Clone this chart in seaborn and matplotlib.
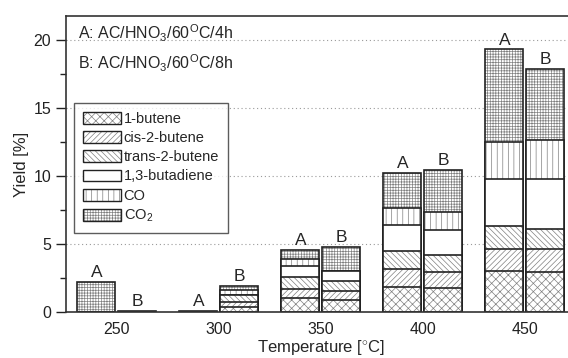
import matplotlib
matplotlib.use('Agg')
import matplotlib.pyplot as plt
import matplotlib.colors as mcolors
from matplotlib.patches import Patch
from matplotlib.ticker import MultipleLocator
import pandas as pd
import seaborn as sns

# values (yield in %)
temps = ['250', '300', '350', '400', '450']
samples = ['A', 'B']
compounds = ['1-butene', 'cis-2-butene', 'trans-2-butene', '1,3-butadiene', 'CO', 'CO$_2$']

butene1_A = [0.0, 0.0, 1.00, 1.86, 3.04]
butene1_B = [0.0, 0.35, 0.85, 1.79, 2.94]
cis_A = [0.0, 0.0, 0.69, 1.28, 1.57]
cis_B = [0.0, 0.42, 0.69, 1.17, 1.66]
trans_A = [0.0, 0.0, 0.86, 1.37, 1.71]
trans_B = [0.0, 0.45, 0.76, 1.25, 1.53]
butadiene_A = [0.0, 0.0, 0.83, 1.86, 3.46]
butadiene_B = [0.0, 0.05, 0.74, 1.84, 3.65]
co_A = [0.0, 0.0, 0.49, 1.25, 2.74]
co_B = [0.0, 0.35, 0.0, 1.29, 2.87]
co2_A = [2.20, 0.10, 0.69, 2.62, 6.78]
co2_B = [0.10, 0.28, 1.76, 3.08, 5.25]

hatches = ['xxxx', '//////', '\\\\\\\\\\\\', '', '|||', '++++++']

sns.set_style('ticks')
plt.rcParams['font.family'] = ['Liberation Sans', 'DejaVu Sans']
plt.rcParams['mathtext.fontset'] = 'custom'
plt.rcParams['mathtext.rm'] = 'Liberation Sans'
plt.rcParams['mathtext.it'] = 'Liberation Sans:italic'
plt.rcParams['mathtext.bf'] = 'Liberation Sans:bold'
plt.rcParams['hatch.linewidth'] = 0.5

edge = '#222222'
hatch_col = '#808080'


def set_hatch(p, h):
    p.set_hatch(h)
    if hasattr(p, 'set_hatchcolor'):
        p.set_hatchcolor(hatch_col)
    else:
        p._hatch_color = mcolors.to_rgba(hatch_col)


# long table of stacked layers (cumulative sums)
layers_A = [butene1_A, cis_A, trans_A, butadiene_A, co_A, co2_A]
layers_B = [butene1_B, cis_B, trans_B, butadiene_B, co_B, co2_B]
rows = []
for i, comp in enumerate(compounds):
    for s, layers in zip(samples, [layers_A, layers_B]):
        for j, t in enumerate(temps):
            cum = sum(layers[k][j] for k in range(i + 1))
            rows.append({'temp': t, 'sample': s, 'compound': comp, 'cum': cum})
df = pd.DataFrame(rows)

fig = plt.figure(figsize=(5.68, 3.58), dpi=100)
ax = fig.add_axes([65.7 / 568, 1 - 312 / 358, 510 / 568, 296 / 358])

# draw from the top layer down, each one covers the one before
first_patches = None
for i in range(len(compounds) - 1, -1, -1):
    n0 = len(ax.patches)
    sub = df[df['compound'] == compounds[i]]
    sns.barplot(data=sub, x='temp', y='cum', hue='sample', order=temps,
                hue_order=samples, palette={'A': 'white', 'B': 'white'},
                saturation=1, width=0.8, gap=0.06, errorbar=None,
                edgecolor=edge, linewidth=1.2, legend=False, ax=ax)
    new = ax.patches[n0:]
    for p in new:
        set_hatch(p, hatches[i])
    if first_patches is None:
        first_patches = list(new)

# A / B labels above the bars
for p in first_patches:
    xc = p.get_x() + p.get_width() / 2
    lab = 'A' if xc < round(xc) else 'B'
    ax.text(xc, p.get_height() + 0.35, lab, ha='center', va='baseline', fontsize=12.5)

ax.set_xlim(-0.5, 4.5)
ax.set_ylim(0, 21.76)
ax.yaxis.set_major_locator(MultipleLocator(5))
ax.yaxis.set_minor_locator(MultipleLocator(2.5))
ax.tick_params(axis='y', which='major', direction='out', length=7, width=1, labelsize=11.5, colors='#222')
ax.tick_params(axis='y', which='minor', direction='out', length=4, width=1, colors='#222')
ax.tick_params(axis='x', length=0, pad=7, labelsize=11.5, colors='#222')
ax.yaxis.grid(True, linestyle=(0, (1, 2.5)), color='#9a9a9a', linewidth=0.8)
ax.set_axisbelow(True)
for side in ['left', 'top', 'bottom', 'right']:
    ax.spines[side].set_color('#333333')
    ax.spines[side].set_linewidth(1.2)

ax.set_xlabel('Temperature [$^{\\circ}$C]', fontsize=12, labelpad=1)
ax.set_ylabel('Yield [%]', fontsize=12, labelpad=3)

fig.text(78 / 568, 1 - 33 / 358, 'A: AC/HNO$_{3}$/60$^{\\mathrm{O}}$C/4h', fontsize=11.5, va='center')
fig.text(78 / 568, 1 - 63 / 358, 'B: AC/HNO$_{3}$/60$^{\\mathrm{O}}$C/8h', fontsize=11.5, va='center')

handles = []
for comp, h in zip(compounds, hatches):
    hp = Patch(facecolor='white', edgecolor=edge, linewidth=1.0, label=comp)
    set_hatch(hp, h)
    handles.append(hp)
leg = ax.legend(handles=handles, loc='upper left', bbox_to_anchor=(74 / 568, 1 - 103 / 358),
                bbox_transform=fig.transFigure, fontsize=10.5, frameon=True, fancybox=False,
                handlelength=2.6, handleheight=0.85, handletextpad=0.2, labelspacing=0.36,
                borderpad=0.6, borderaxespad=0)
leg.get_frame().set_edgecolor('#333333')
leg.get_frame().set_linewidth(1.0)

fig.savefig('out.png', dpi=100)
